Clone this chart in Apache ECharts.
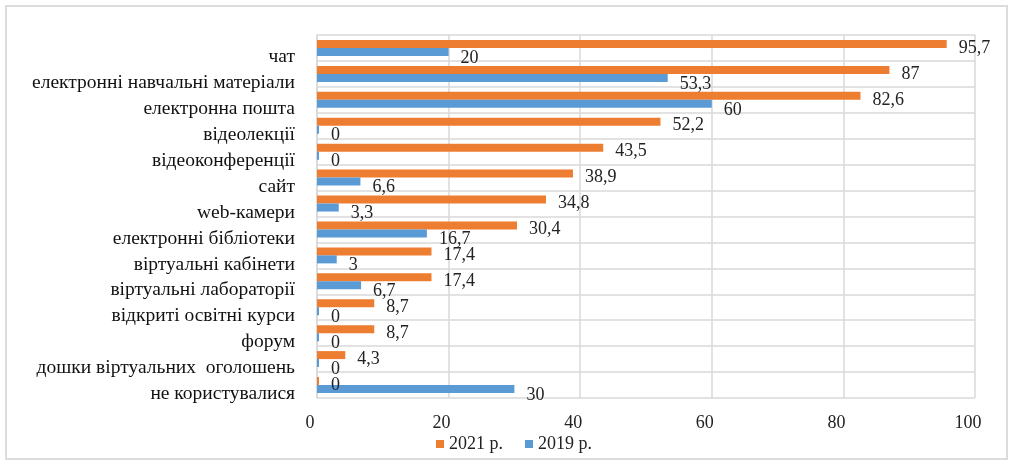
<!DOCTYPE html>
<html>
<head>
<meta charset="utf-8">
<script src="https://cdn.jsdelivr.net/npm/echarts@6/dist/echarts.min.js"></script>
<style>
  html, body { margin: 0; padding: 0; background: #fff; }
  #frame { position: absolute; left: 5px; top: 5px; width: 1003px; height: 455px;
           border: 2px solid #dcdcdc; box-sizing: border-box; }
  #chart { position: absolute; left: 0; top: 0; width: 1015px; height: 468px; }
</style>
</head>
<body>
<div id="frame"></div>
<div id="chart"></div>
<script>
  // категорії зверху вниз
  var categories = [
    "чат", "електронні навчальні матеріали", "електронна пошта", "відеолекції",
    "відеоконференції", "сайт", "web-камери", "електронні бібліотеки",
    "віртуальні кабінети", "віртуальні лабораторії", "відкриті освітні курси",
    "форум", "дошки віртуальних  оголошень", "не користувалися"
  ];
  var values2021 = [95.7, 87, 82.6, 52.2, 43.5, 38.9, 34.8, 30.4, 17.4, 17.4, 8.7, 8.7, 4.3, 0];
  var values2019 = [20, 53.3, 60, 0, 0, 6.6, 3.3, 16.7, 3, 6.7, 0, 0, 0, 30];
  var xTicks = [0, 20, 40, 60, 80, 100];

  var SERIF = "'Liberation Serif', 'DejaVu Serif', serif";
  function comma(v) { return String(v).replace(".", ","); }

  var chart = echarts.init(document.getElementById("chart"));
  chart.setOption({
    animation: false,
    textStyle: { fontFamily: SERIF },
    grid: { left: 317, right: 40, top: 35, bottom: 70 },
    legend: {
      left: 431, top: 430, itemWidth: 8, itemHeight: 8, itemGap: 22,
      icon: "rect",
      textStyle: { fontFamily: SERIF, fontSize: 18, color: "#222" },
      data: ["2021 р.", "2019 р."]
    },
    xAxis: {
      type: "value", min: xTicks[0], max: xTicks[xTicks.length - 1], interval: 20,
      axisLine: { show: false }, axisTick: { show: false },
      axisLabel: { fontFamily: SERIF, fontSize: 18, color: "#222", margin: 16,
                   padding: [0, 14, 0, 0] },
      splitLine: { lineStyle: { color: "#d9d9d9", width: 1.5 } }
    },
    yAxis: {
      type: "category", data: categories, inverse: true,
      axisLine: { show: true, lineStyle: { color: "#d9d9d9", width: 1.5 } },
      axisTick: { show: false },
      axisLabel: { interval: 0, fontFamily: SERIF, fontSize: 19.5, color: "#111",
                   margin: 22, verticalAlign: "top", lineHeight: 18 },
      splitLine: { show: true, interval: 0,
                   lineStyle: { color: "#d9d9d9", width: 1.5 } }
    },
    series: [
      {
        name: "2021 р.", type: "bar", data: values2021,
        barWidth: 8, barGap: "0%", barMinHeight: 2,
        itemStyle: { color: "#ED7D31" },
        label: { show: true, position: "right", distance: 12, offset: [0, 4],
                 fontFamily: SERIF, fontSize: 18, color: "#222",
                 formatter: function (p) { return comma(p.value); } }
      },
      {
        name: "2019 р.", type: "bar", data: values2019,
        barWidth: 8, barMinHeight: 2,
        itemStyle: { color: "#5B9BD5" },
        label: { show: true, position: "right", distance: 12, offset: [0, 6],
                 fontFamily: SERIF, fontSize: 18, color: "#222",
                 formatter: function (p) { return comma(p.value); } }
      }
    ]
  });
</script>
</body>
</html>
